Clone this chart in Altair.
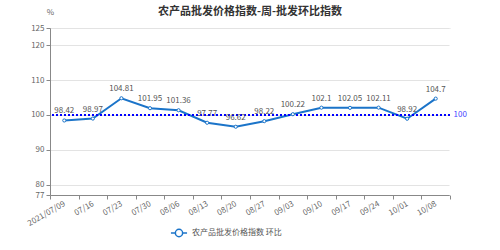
import altair as alt
import pandas as pd

dates = ["2021/07/09", "07/16", "07/23", "07/30", "08/06", "08/13", "08/20",
         "08/27", "09/03", "09/10", "09/17", "09/24", "10/01", "10/08"]
values = [98.42, 98.97, 104.81, 101.95, 101.36, 97.77, 96.62,
          98.22, 100.22, 102.1, 102.05, 102.11, 98.92, 104.7]
series_name = "农产品批发价格指数  环比"
y_ticks = [77, 80, 90, 100, 110, 120, 125]
ref_value = [100]

df = pd.DataFrame({"date": dates, "value": values, "series": series_name})
ref_df = pd.DataFrame({"ref": ref_value})

LINE = "#1b74c9"
FONT = "Noto Sans CJK SC"

x_enc = alt.X("date:N", sort=dates, scale=alt.Scale(paddingInner=0, paddingOuter=0),
              axis=alt.Axis(title=None, labelAngle=-30, labelAlign="right", labelBaseline="middle",
                            tickBand="extent", labelFontSize=8, labelColor="#666",
                            domainColor="#888", tickColor="#888", tickSize=4,
                            labelPadding=4, grid=False, labelFont=FONT))
y_scale = alt.Scale(domain=[77, 125], nice=False, zero=False)
y_enc = alt.Y("value:Q", scale=y_scale,
              axis=alt.Axis(values=y_ticks, title="%", titleAngle=0, titleX=0, titleY=-12,
                            titleAlign="center", titleFontWeight="normal", titleFontSize=8,
                            titleColor="#666", labelFontSize=8, labelColor="#666",
                            domainColor="#888", tickColor="#888", tickSize=4,
                            gridColor="#e3e3e3", grid=True, labelFont=FONT, titleFont=FONT))

sym = "M-1,0L-0.45,0M0.45,0L1,0M-0.45,0A0.45,0.45 0 1,1 0.45,0A0.45,0.45 0 1,1 -0.45,0Z"

line = alt.Chart(df).mark_line(strokeWidth=2).encode(
    x=x_enc, y=y_enc,
    color=alt.Color("series:N", scale=alt.Scale(domain=[series_name], range=[LINE]),
                    legend=alt.Legend(title=None, orient="none", legendX=120, legendY=196,
                                      symbolType=sym, symbolSize=260, symbolStrokeWidth=1.5,
                                      symbolFillColor="white", symbolStrokeColor=LINE,
                                      labelFontSize=8, labelColor="#555", labelFont=FONT)))

points = alt.Chart(df).mark_point(shape="circle", filled=True, fill="white", stroke=LINE,
                                  strokeWidth=1, size=10, opacity=1).encode(
    x=alt.X("date:N", sort=dates), y=alt.Y("value:Q", axis=None))

labels = alt.Chart(df).mark_text(dy=-9, fontSize=8, color="#555", font=FONT).encode(
    x=alt.X("date:N", sort=dates), y=alt.Y("value:Q", axis=None),
    text=alt.Text("value:Q"))

rule = alt.Chart(ref_df).mark_rule(color="#0000ff", strokeWidth=2, strokeDash=[2, 2]).encode(
    y=alt.Y("ref:Q", scale=y_scale,
            axis=alt.Axis(orient="right", values=ref_value, title=None, domain=True,
                          domainColor="white", domainWidth=2, ticks=False,
                          grid=False, labelColor="#4444ff", labelFontSize=8, labelPadding=3,
                          labelFont=FONT)))

chart = alt.layer(line, rule, points, labels).resolve_axis(y="independent").properties(
    width=400, height=167,
    autosize=alt.AutoSizeParams(type="none"),
    padding={"left": 50, "top": 28, "right": 50, "bottom": 55},
    title=alt.TitleParams("农产品批发价格指数-周-批发环比指数", fontSize=11, fontWeight="bold",
                          color="#333", font=FONT, anchor="middle", offset=-9),
).configure_view(stroke="transparent").configure(background="white")

chart.save("out.html", embed_options={"renderer": "svg", "actions": False})
